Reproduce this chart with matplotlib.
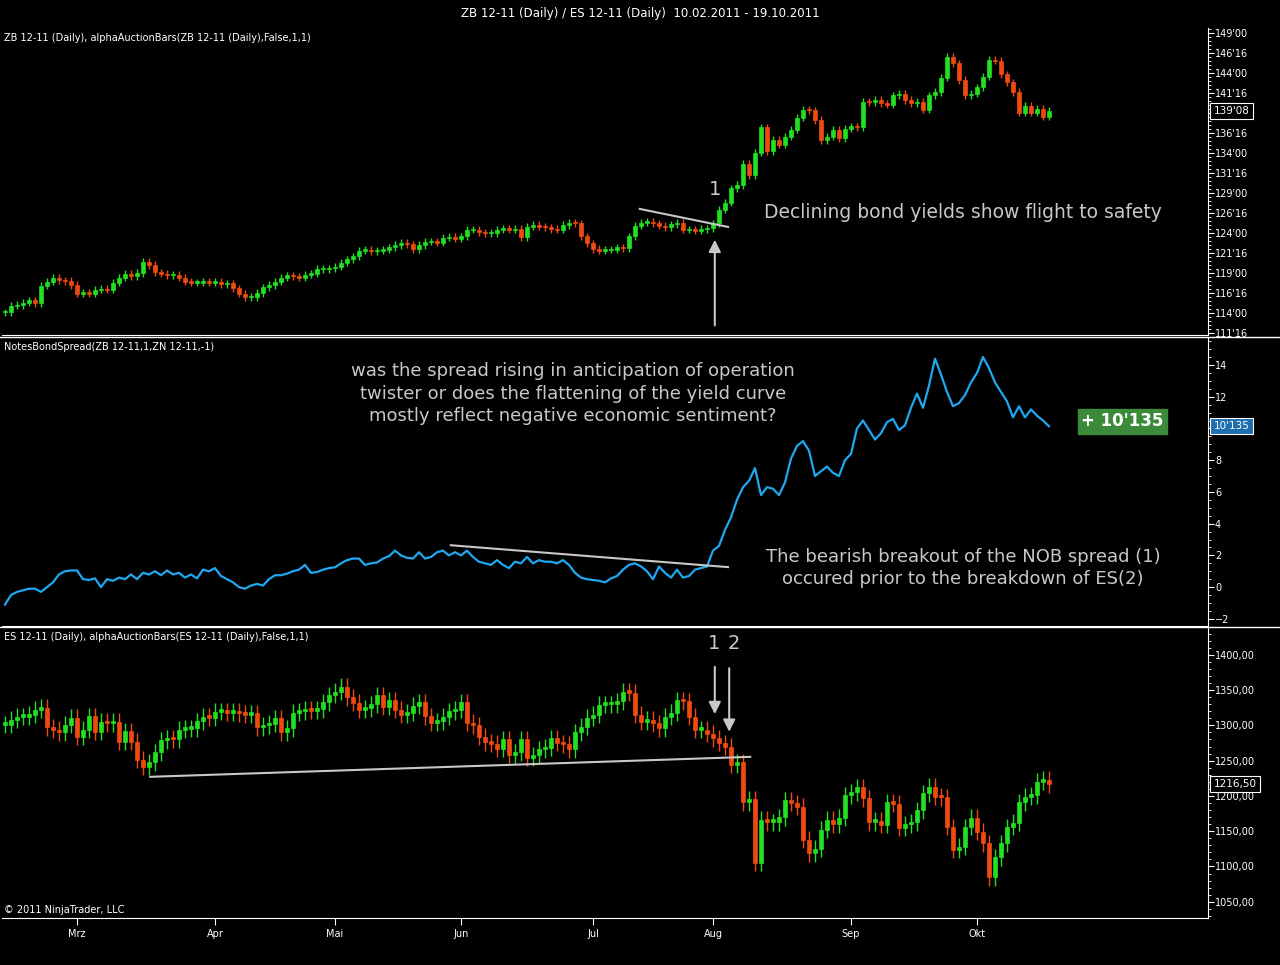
import numpy as np
import pandas as pd
import matplotlib.pyplot as plt
from matplotlib.ticker import MultipleLocator, FuncFormatter, FixedLocator

# trading days 10.02.2011 - 19.10.2011 (US holidays removed)
holidays = ['2011-02-21', '2011-04-22', '2011-05-30', '2011-07-04', '2011-09-05']
dates = pd.bdate_range('2011-02-10', '2011-10-19').drop(pd.to_datetime(holidays))

# ZB 12-11 daily closes
zb_close = [
    114.1, 114.9, 115.0, 115.3, 115.6, 115.2, 117.4, 117.9, 118.4, 118.1, 118.0, 117.5,
    116.4, 116.6, 116.4, 116.9, 117.0, 116.9, 117.8, 118.4, 118.9, 118.6, 119.0, 120.4,
    120.0, 119.1, 118.9, 118.7, 118.8, 118.4, 117.9, 117.8, 117.8, 117.9, 117.8,
    117.9, 117.6, 117.7, 117.1, 116.4, 116.0, 116.0, 116.5, 117.2, 117.5, 117.9, 118.4,
    118.7, 118.6, 118.4, 118.8, 118.9, 119.5, 119.5, 119.6,
    119.8, 120.3, 120.7, 121.1, 121.8, 121.9, 121.7, 121.8, 121.9, 122.2, 122.5, 122.8,
    122.6, 122.0, 122.5, 122.9, 122.9, 122.8, 123.4, 123.5, 123.3,
    123.6, 124.4, 124.4, 124.1, 124.0, 124.0, 124.4, 124.6, 124.4, 124.5, 123.5, 124.8,
    125.0, 124.8, 124.7, 124.5, 124.4, 125.0, 125.3, 125.2, 123.6, 122.7,
    122.0, 121.8, 121.9, 121.9, 122.2, 122.1, 123.6, 124.9, 125.3, 125.4, 125.2, 124.9,
    124.7, 125.1, 125.3, 124.4, 124.4, 124.3, 124.5, 124.6,
    125.2, 126.9, 127.8, 129.6, 130.0, 132.6, 131.2, 134.0, 137.2, 134.2, 135.6, 135.0,
    136.0, 136.9, 138.4, 139.4, 139.3, 138.1, 135.6, 136.0, 136.9, 135.8, 137.0,
    137.3, 137.2, 140.4, 140.3, 140.6, 140.2, 140.0, 141.2, 141.4, 140.6, 140.2, 140.4,
    139.4, 141.2, 141.6, 143.4, 146.0, 145.2, 143.1, 141.2, 141.4,
    142.2, 143.5, 145.6, 145.5, 143.8, 142.8, 141.6, 139.0, 139.9, 139.0, 139.5, 138.5, 139.25,
]

# NotesBondSpread(ZB 12-11,1,ZN 12-11,-1)
spread = [
    -1.1, -0.5, -0.3, -0.2, -0.1, -0.1, -0.3, 0.0, 0.3, 0.8, 1.0, 1.05,
    1.05, 0.5, 0.45, 0.55, 0.0, 0.5, 0.4, 0.6, 0.5, 0.8, 0.5, 0.9, 0.8, 1.0, 0.75, 1.05,
    0.8, 0.9, 0.6, 0.8, 0.55, 1.1, 1.0,
    1.2, 0.7, 0.5, 0.3, 0.0, -0.1, 0.1, 0.2, 0.1, 0.5, 0.75, 0.75, 0.85, 1.0, 1.1, 1.4,
    0.9, 0.95, 1.1, 1.2,
    1.25, 1.5, 1.7, 1.8, 1.8, 1.4, 1.5, 1.55, 1.8, 1.95, 2.3, 2.0, 1.85, 1.8, 2.2, 1.8,
    1.9, 2.2, 2.3, 2.0, 2.2,
    2.0, 2.3, 1.9, 1.6, 1.5, 1.4, 1.7, 1.4, 1.2, 1.6, 1.5, 1.9, 1.5, 1.7, 1.6, 1.6,
    1.5, 1.7, 1.4, 0.9, 0.6, 0.5,
    0.45, 0.4, 0.3, 0.55, 0.7, 1.1, 1.4, 1.5, 1.3, 1.0, 0.5, 1.3, 0.9, 0.6, 1.1, 0.6,
    0.7, 1.1, 1.2, 1.3,
    2.3, 2.6, 3.6, 4.4, 5.5, 6.3, 6.7, 7.5, 5.8, 6.3, 6.2, 5.8, 6.6, 8.1, 8.9, 9.2,
    8.6, 7.0, 7.3, 7.6, 7.2, 7.0, 8.0,
    8.4, 10.0, 10.5, 9.9, 9.3, 9.7, 10.4, 10.6, 9.9, 10.2, 11.3, 12.2, 11.3, 12.7,
    14.4, 13.4, 12.3, 11.4, 11.6, 12.1, 12.9,
    13.5, 14.5, 13.8, 12.9, 12.3, 11.7, 10.7, 11.4, 10.7, 11.2, 10.8, 10.5, 10.135,
]

# ES 12-11 daily closes
es_close = [
    1301, 1308, 1312, 1312, 1315, 1322, 1325, 1297, 1294, 1290, 1301, 1311,
    1284, 1294, 1313, 1291, 1305, 1303, 1305, 1277, 1292, 1277, 1251, 1241, 1248, 1262,
    1279, 1282, 1280, 1294, 1295, 1296, 1306, 1312, 1311,
    1319, 1320, 1318, 1320, 1317, 1315, 1317, 1297, 1300, 1302, 1310, 1290, 1296, 1318,
    1320, 1322, 1321, 1323, 1333, 1343,
    1348, 1355, 1340, 1332, 1322, 1324, 1330, 1343, 1326, 1336, 1322, 1315, 1318, 1328,
    1333, 1313, 1304, 1306, 1312, 1320, 1322,
    1333, 1304, 1300, 1284, 1276, 1274, 1267, 1280, 1258, 1262, 1280, 1254, 1258, 1266,
    1268, 1282, 1275, 1273, 1266, 1290, 1298, 1311,
    1315, 1329, 1330, 1330, 1334, 1348, 1346, 1315, 1305, 1308, 1303, 1296, 1312, 1318,
    1336, 1334, 1312, 1294, 1294, 1288,
    1282, 1275, 1270, 1244, 1248, 1191, 1195, 1105, 1166, 1163, 1163, 1170, 1194, 1190,
    1185, 1138, 1119, 1125, 1152, 1166, 1160, 1169, 1201,
    1205, 1212, 1197, 1163, 1165, 1159, 1191, 1189, 1155, 1160, 1163, 1180, 1204, 1213,
    1199, 1198, 1156, 1124, 1128, 1156, 1169,
    1149, 1133, 1085, 1113, 1133, 1156, 1162, 1191, 1199, 1201, 1220, 1223, 1216.5,
]

month_names = ['Mrz', 'Apr', 'Mai', 'Jun', 'Jul', 'Aug', 'Sep', 'Okt']

GREEN = '#22e022'
RED = '#f04a10'
GRAY = '#c8c8c8'

W, H = 1280, 965
fig = plt.figure(figsize=(W / 100, H / 100), dpi=100, facecolor='black')


def ax_at(top, bottom):
    a = fig.add_axes([2 / W, 1 - bottom / H, 1206 / W, (bottom - top) / H])
    a.set_facecolor('black')
    for s in ['left', 'top']:
        a.spines[s].set_visible(False)
    for s in ['right', 'bottom']:
        a.spines[s].set_color('white')
    a.yaxis.tick_right()
    a.tick_params(axis='y', colors='white', labelsize=7, length=4, direction='out', pad=1)
    a.tick_params(axis='y', which='minor', colors='white', length=2)
    a.tick_params(axis='x', length=0, labelbottom=False)
    a.set_xlim(-0.5, 200.5)
    return a


def candles(a, close, wick):
    close = np.asarray(close, dtype=float)
    opn = np.r_[close[0], close[:-1]]
    x = np.arange(len(close))
    up = close >= opn
    cols = np.where(up, GREEN, RED)
    lo = np.minimum(opn, close)
    hi = np.maximum(opn, close)
    a.vlines(x, lo - wick, hi + wick, colors=cols, lw=1)
    body = np.maximum(hi - lo, wick * 0.3)
    a.bar(x, body, bottom=lo, width=0.55, color=cols, edgecolor=cols, lw=0.5)


def price_box(a, value, label, face):
    # marker box on the right axis, drawn over the tick label it replaces
    a.annotate(label, xy=(1.0, value), xycoords=('axes fraction', 'data'),
               xytext=(4, 0), textcoords='offset points', color='white', fontsize=7.5,
               va='center', ha='left', annotation_clip=False, zorder=10,
               bbox=dict(boxstyle='square,pad=0.3', fc=face, ec='white', lw=0.8))


n = len(dates)
xs = np.arange(n)

# ---- ZB panel
ax1 = ax_at(28, 335)
candles(ax1, zb_close, 0.45)
ax1.set_ylim(111.25, 149.6)
ax1.yaxis.set_major_locator(FixedLocator(np.arange(111.5, 149.1, 2.5)))
ax1.yaxis.set_minor_locator(MultipleLocator(0.5))
ax1.yaxis.set_major_formatter(FuncFormatter(lambda v, p: f"{int(v)}'{int(round((v % 1) * 32)):02d}"))
ax1.text(0.002, 0.985, "ZB 12-11 (Daily), alphaAuctionBars(ZB 12-11 (Daily),False,1,1)",
         transform=ax1.transAxes, color='white', fontsize=7, va='top')
ax1.plot([105.8, 120.5], [127.0, 124.75], color=GRAY, lw=1.5)
ax1.annotate('', xy=(118.3, 123.5), xytext=(118.3, 112.1),
             arrowprops=dict(arrowstyle='-|>', color=GRAY, lw=1.5, mutation_scale=18))
ax1.text(118.3, 129.4, '1', color=GRAY, fontsize=14, ha='center', va='center')
ax1.text(159.7, 126.6, 'Declining bond yields show flight to safety', color=GRAY,
         fontsize=13.5, ha='center', va='center')
price_box(ax1, zb_close[-1], "139'08", 'black')

# ---- spread panel
ax2 = ax_at(338, 626)
ax2.plot(xs, spread, color='#1fa8f0', lw=1.6)
ax2.set_ylim(-2.45, 15.7)
ax2.yaxis.set_major_locator(MultipleLocator(2))
ax2.yaxis.set_minor_locator(MultipleLocator(0.5))
ax2.text(0.002, 0.985, "NotesBondSpread(ZB 12-11,1,ZN 12-11,-1)", transform=ax2.transAxes,
         color='white', fontsize=7, va='top')
ax2.text(94.7, 12.2, "was the spread rising in anticipation of operation\n"
         "twister or does the flattening of the yield curve\n"
         "mostly reflect negative economic sentiment?", color=GRAY, fontsize=13,
         ha='center', va='center', linespacing=1.3)
ax2.plot([74.3, 120.5], [2.64, 1.26], color=GRAY, lw=1.5)
ax2.text(159.7, 1.2, "The bearish breakout of the NOB spread (1)\n"
         "occured prior to the breakdown of ES(2)", color=GRAY, fontsize=13,
         ha='center', va='center', linespacing=1.3)
ax2.text(186.2, 10.44, "+ 10'135", color='white', fontsize=12, fontweight='bold',
         ha='center', va='center',
         bbox=dict(boxstyle='square,pad=0.2', fc='#3a8a3a', ec='#3a8a3a'))
price_box(ax2, spread[-1], "10'135", '#1f6fb0')

# ---- ES panel
ax3 = ax_at(628, 918)
candles(ax3, es_close, 12)
ax3.set_ylim(1027, 1438)
ax3.yaxis.set_major_locator(MultipleLocator(50))
ax3.yaxis.set_minor_locator(MultipleLocator(10))
ax3.yaxis.set_major_formatter(FuncFormatter(lambda v, p: f"{v:.2f}".replace('.', ',')))
ax3.text(0.002, 0.985, "ES 12-11 (Daily), alphaAuctionBars(ES 12-11 (Daily),False,1,1)",
         transform=ax3.transAxes, color='white', fontsize=7, va='top')
ax3.text(0.002, 0.012, "© 2011 NinjaTrader, LLC", transform=ax3.transAxes,
         color='white', fontsize=7, va='bottom')
ax3.plot([24.2, 124.2], [1227.1, 1255.4], color=GRAY, lw=1.5)
ax3.annotate('', xy=(118.3, 1312), xytext=(118.3, 1387),
             arrowprops=dict(arrowstyle='-|>', color=GRAY, lw=1.5, mutation_scale=18))
ax3.annotate('', xy=(120.7, 1287), xytext=(120.7, 1385),
             arrowprops=dict(arrowstyle='-|>', color=GRAY, lw=1.5, mutation_scale=18))
ax3.text(118.2, 1416, '1', color=GRAY, fontsize=14, ha='center', va='center')
ax3.text(121.4, 1416, '2', color=GRAY, fontsize=14, ha='center', va='center')
price_box(ax3, es_close[-1], "1216,50", 'black')

# month ticks on bottom
first = [np.where(dates.month == m)[0][0] for m in range(3, 11)]
ax3.xaxis.set_major_locator(FixedLocator(first))
ax3.set_xticklabels(month_names)
ax3.tick_params(axis='x', colors='white', labelsize=7, length=5, direction='out',
                labelbottom=True, pad=3)

# panel separators spanning full width
for yy in [336.5, 627]:
    fig.add_artist(plt.Line2D([0, 1], [1 - yy / H, 1 - yy / H], color='white', lw=1))

fig.text(0.5, 1 - 13 / H, "ZB 12-11 (Daily) / ES 12-11 (Daily)  10.02.2011 - 19.10.2011",
         color='white', fontsize=8.5, ha='center', va='center')

fig.savefig('out.png', dpi=100, facecolor='black')
